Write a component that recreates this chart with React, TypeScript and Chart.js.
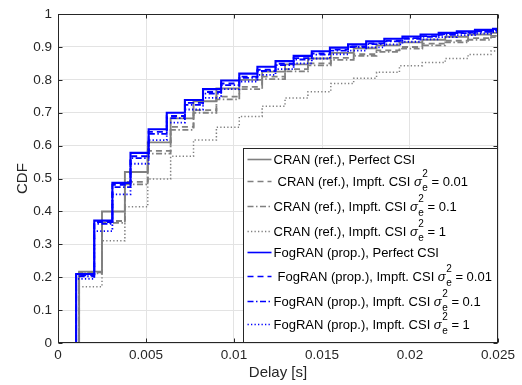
import React, { useEffect, useRef } from "react";
import { Chart, registerables } from "chart.js";

Chart.register(...registerables);

// ---- axis ticks ----
const xTickValues = [0, 0.005, 0.01, 0.015, 0.02, 0.025];
const xTickLabels = ["0", "0.005", "0.01", "0.015", "0.02", "0.025"];
const yTickValues = [0, 0.1, 0.2, 0.3, 0.4, 0.5, 0.6, 0.7, 0.8, 0.9, 1];
const yTickLabels = ["0", "0.1", "0.2", "0.3", "0.4", "0.5", "0.6", "0.7", "0.8", "0.9", "1"];

// ---- step positions (delay, s) ----
const cranSteps = [0.0012, 0.0025, 0.0038, 0.0051, 0.0064, 0.0077, 0.009, 0.0103, 0.0116, 0.0129,
  0.0142, 0.0155, 0.0168, 0.0181, 0.0194, 0.0207, 0.022, 0.0233, 0.0246];
const fogSteps = [0.00103, 0.00206, 0.00309, 0.00412, 0.00515, 0.00618, 0.00721, 0.00824, 0.00927, 0.0103,
  0.01133, 0.01236, 0.01339, 0.01442, 0.01545, 0.01648, 0.01751, 0.01854, 0.01957, 0.0206,
  0.02163, 0.02266, 0.02369, 0.02472];

// ---- CDF values after each step ----
const cranPerfect = [0.217, 0.40, 0.52, 0.61, 0.683, 0.735, 0.774, 0.80, 0.825, 0.847, 0.865, 0.882, 0.896, 0.905, 0.914, 0.922, 0.931, 0.938, 0.943];
const cranS001 = [0.215, 0.371, 0.49, 0.584, 0.657, 0.708, 0.749, 0.779, 0.81, 0.833, 0.85, 0.867, 0.878, 0.89, 0.90, 0.91, 0.919, 0.927, 0.934];
const cranS01 = [0.212, 0.365, 0.482, 0.576, 0.648, 0.70, 0.741, 0.772, 0.802, 0.826, 0.844, 0.861, 0.873, 0.885, 0.895, 0.905, 0.914, 0.922, 0.93];
const cranS1 = [0.171, 0.311, 0.414, 0.499, 0.568, 0.617, 0.656, 0.689, 0.72, 0.745, 0.764, 0.789, 0.805, 0.823, 0.843, 0.853, 0.865, 0.877, 0.888];
const fogPerfect = [0.21, 0.372, 0.487, 0.578, 0.65, 0.70, 0.739, 0.772, 0.798, 0.819, 0.84, 0.857, 0.873, 0.887, 0.898, 0.908, 0.917, 0.925, 0.932, 0.938, 0.943, 0.948, 0.952, 0.955];
const fogS001 = [0.206, 0.368, 0.481, 0.568, 0.642, 0.69, 0.73, 0.763, 0.789, 0.81, 0.831, 0.849, 0.866, 0.88, 0.892, 0.902, 0.911, 0.919, 0.927, 0.933, 0.939, 0.944, 0.948, 0.951];
const fogS01 = [0.203, 0.362, 0.474, 0.562, 0.636, 0.684, 0.724, 0.758, 0.784, 0.806, 0.827, 0.845, 0.862, 0.877, 0.889, 0.90, 0.909, 0.917, 0.925, 0.931, 0.937, 0.942, 0.946, 0.95];
const fogS1 = [0.195, 0.34, 0.452, 0.545, 0.617, 0.67, 0.71, 0.745, 0.772, 0.795, 0.815, 0.833, 0.85, 0.865, 0.878, 0.889, 0.899, 0.908, 0.916, 0.923, 0.93, 0.936, 0.941, 0.945];

// ---- legend ----
const seriesNames = [
  "CRAN (ref.), Perfect CSI",
  "CRAN (ref.), Impft. CSI",
  "CRAN (ref.), Impft. CSI",
  "CRAN (ref.), Impft. CSI",
  "FogRAN (prop.), Perfect CSI",
  "FogRAN (prop.), Impft. CSI",
  "FogRAN (prop.), Impft. CSI",
  "FogRAN (prop.), Impft. CSI",
];
const sigmaValues = [null, "0.01", "0.1", "1", null, "0.01", "0.1", "1"];

const GRAY = "#808080";
const BLUE = "#0000ff";
const FONT = "'Liberation Sans', Arial, Helvetica, sans-serif";

const seriesStyles = [
  { color: GRAY, dash: [], width: 1.9 },
  { color: GRAY, dash: [6, 4], width: 1.8 },
  { color: GRAY, dash: [6, 2.5, 1.5, 2.5], width: 1.8 },
  { color: GRAY, dash: [1.3, 2.2], width: 1.5 },
  { color: BLUE, dash: [], width: 2.1 },
  { color: BLUE, dash: [6, 4], width: 1.9 },
  { color: BLUE, dash: [6, 2.5, 1.5, 2.5], width: 1.8 },
  { color: BLUE, dash: [1.3, 2.2], width: 1.8 },
];

const seriesSteps = [cranSteps, cranSteps, cranSteps, cranSteps, fogSteps, fogSteps, fogSteps, fogSteps];
const seriesValues = [cranPerfect, cranS001, cranS01, cranS1, fogPerfect, fogS001, fogS01, fogS1];

function buildPoints(steps: number[], vals: number[]) {
  const pts = [{ x: 0, y: 0 }];
  steps.forEach((s, i) => pts.push({ x: s, y: vals[i] }));
  pts.push({ x: xTickValues[xTickValues.length - 1], y: vals[vals.length - 1] });
  return pts;
}

const overlayPlugin = {
  id: "overlay",
  afterDraw(chart: any) {
    const { ctx, chartArea: a, scales } = chart;
    const xs = scales.x;
    const ys = scales.y;
    const L = Math.round(a.left) + 0.5;
    const R = Math.round(a.right) - 0.5;
    const T = Math.round(a.top) + 0.5;
    const B = Math.round(a.bottom) - 0.5;
    ctx.save();
    ctx.strokeStyle = "#262626";
    ctx.lineWidth = 1;
    ctx.setLineDash([]);
    ctx.strokeRect(L, T, R - L, B - T);
    const tl = 4;
    ctx.beginPath();
    xTickValues.forEach((v) => {
      const p = Math.round(xs.getPixelForValue(v)) + 0.5;
      ctx.moveTo(p, B); ctx.lineTo(p, B - tl);
      ctx.moveTo(p, T); ctx.lineTo(p, T + tl);
    });
    yTickValues.forEach((v) => {
      const p = Math.round(ys.getPixelForValue(v)) + 0.5;
      ctx.moveTo(L, p); ctx.lineTo(L + tl, p);
      ctx.moveTo(R, p); ctx.lineTo(R - tl, p);
    });
    ctx.stroke();

    // legend
    const lw = 254;
    const lh = 194;
    const lx = Math.round(a.right) - lw - 0.5;
    const ly = Math.round(a.bottom) - lh - 0.5;
    ctx.fillStyle = "#ffffff";
    ctx.fillRect(lx, ly, lw, lh);
    ctx.strokeStyle = "#262626";
    ctx.strokeRect(lx, ly, lw, lh);
    const rows = [11, 33, 58, 83, 104, 128, 153, 176];
    seriesNames.forEach((name, i) => {
      const st = seriesStyles[i];
      const cy = ly + rows[i];
      ctx.beginPath();
      ctx.strokeStyle = st.color;
      ctx.lineWidth = Math.min(st.width, 1.6);
      ctx.setLineDash(st.dash);
      ctx.moveTo(lx + 4, cy);
      ctx.lineTo(lx + 28, cy);
      ctx.stroke();
      ctx.setLineDash([]);
      const isDashed = st.dash.length === 2 && st.dash[0] > 3;
      let tx = lx + (isDashed ? 34 : 30);
      const base = cy + 4.6;
      ctx.fillStyle = "#000000";
      ctx.textBaseline = "alphabetic";
      ctx.textAlign = "left";
      ctx.font = `13px ${FONT}`;
      const sig = sigmaValues[i];
      const main = sig === null ? name : name + " ";
      ctx.fillText(main, tx, base);
      if (sig !== null) {
        tx += ctx.measureText(main).width;
        ctx.font = `italic 13px ${FONT}`;
        ctx.fillText("\u03c3", tx, base);
        tx += ctx.measureText("\u03c3").width + 0.5;
        ctx.font = `10px ${FONT}`;
        ctx.fillText("2", tx, base - 9.5);
        ctx.fillText("e", tx, base + 4.5);
        tx += Math.max(ctx.measureText("2").width, ctx.measureText("e").width);
        ctx.font = `13px ${FONT}`;
        ctx.fillText(" = " + sig, tx, base);
      }
    });
    ctx.restore();
  },
};

export default function App() {
  const ref = useRef<HTMLCanvasElement | null>(null);
  useEffect(() => {
    if (!ref.current) return;
    const datasets = seriesNames.map((name, i) => ({
      label: name + (sigmaValues[i] ? " σe² = " + sigmaValues[i] : ""),
      data: buildPoints(seriesSteps[i], seriesValues[i]),
      borderColor: seriesStyles[i].color,
      backgroundColor: seriesStyles[i].color,
      borderWidth: seriesStyles[i].width,
      borderDash: seriesStyles[i].dash,
      borderCapStyle: "butt" as const,
      stepped: "before" as const,
      pointRadius: 0,
      fill: false,
      order: 8 - i,
    }));
    const chart = new Chart(ref.current, {
      type: "line",
      data: { datasets },
      options: {
        animation: false,
        responsive: false,
        parsing: false as any,
        layout: { padding: { top: 14, right: 24, left: 0, bottom: 0 } },
        plugins: { legend: { display: false }, tooltip: { enabled: false } },
        scales: {
          x: {
            type: "linear",
            min: 0,
            max: 0.025,
            afterBuildTicks: (s: any) => { s.ticks = xTickValues.map((v) => ({ value: v })); },
            afterFit: (s: any) => { s.height = 42; },
            ticks: {
              callback: (_v: any, idx: number) => xTickLabels[idx],
              font: { size: 13.5, family: FONT },
              color: "#262626",
              padding: 4,
              maxRotation: 0,
            },
            grid: { color: "#e3e3e3", drawTicks: false, lineWidth: 1 },
            border: { display: false },
            title: {
              display: true,
              text: "Delay [s]",
              font: { size: 15, family: FONT },
              color: "#262626",
              padding: { top: 0, bottom: 3 },
            },
          },
          y: {
            type: "linear",
            min: 0,
            max: 1,
            afterBuildTicks: (s: any) => { s.ticks = yTickValues.map((v) => ({ value: v })); },
            afterFit: (s: any) => { s.width = 58; },
            ticks: {
              callback: (_v: any, idx: number) => yTickLabels[idx],
              font: { size: 13.5, family: FONT },
              color: "#262626",
              padding: 6,
            },
            grid: { color: "#e3e3e3", drawTicks: false, lineWidth: 1 },
            border: { display: false },
            title: {
              display: true,
              text: "CDF",
              font: { size: 15, family: FONT },
              color: "#262626",
              padding: { top: 13.5, bottom: 0 },
            },
          },
        },
      },
      plugins: [overlayPlugin],
    });
    return () => chart.destroy();
  }, []);
  return (
    <div style={{ position: "absolute", left: 0, top: 0, width: 522, height: 385, background: "#fff" }}>
      <canvas ref={ref} width={522} height={385} style={{ display: "block" }} />
    </div>
  );
}
